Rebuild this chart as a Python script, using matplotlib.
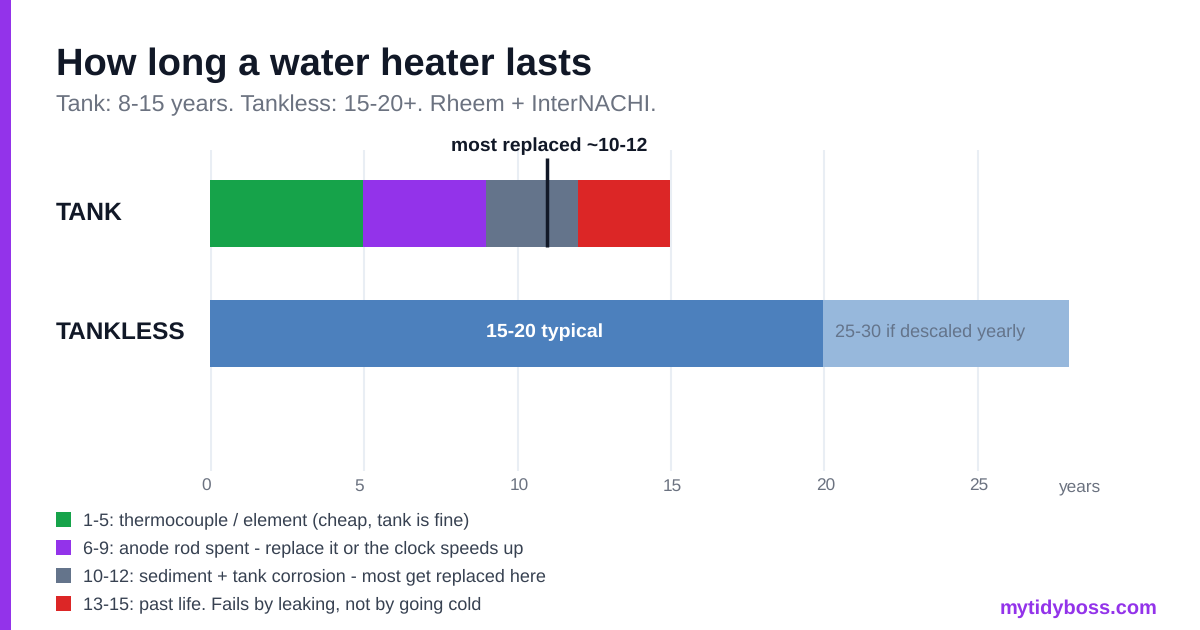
import matplotlib
matplotlib.use('Agg')
import matplotlib.pyplot as plt
from matplotlib.patches import Rectangle

plt.rcParams['font.family'] = ['Liberation Sans', 'DejaVu Sans']
plt.rcParams['text.hinting'] = 'no_hinting'

# tank segments: start, end, colour
tank_starts = [0, 5, 9, 12]
tank_ends = [5, 9, 12, 15]
tank_colors = ['#16a34a', '#9333ea', '#64748b', '#dc2626']

tankless_starts = [0, 20]
tankless_ends = [20, 28]
tankless_colors = ['#4c80bd', '#97b8dc']
tankless_labels = ['15-20 typical', '25-30 if descaled yearly']

marker_year = 11
ticks = [0, 5, 10, 15, 20, 25]

legend_labels = [
    '1-5: thermocouple / element (cheap, tank is fine)',
    '6-9: anode rod spent - replace it or the clock speeds up',
    '10-12: sediment + tank corrosion - most get replaced here',
    '13-15: past life. Fails by leaking, not by going cold',
]

W, H = 1200, 630
fig = plt.figure(figsize=(W / 100, H / 100), dpi=100, facecolor='white')

# plot area in pixels: x=0 at 210
x0 = 210
px_per_year = 30.67
top, bottom = 150, 471
ax = fig.add_axes([x0 / W, 1 - bottom / H, px_per_year * 30 / W, (bottom - top) / H])
ax.set_xlim(0, 30)
ax.set_ylim(bottom, top)  # y in pixels from the top
ax.axis('off')

for t in ticks:
    ax.axvline(t + 0.03, color='#e9eef4', lw=1.5, zorder=1)
    # two digit labels sit a little further right in the reference
    nudge = -0.29 if t < 10 else -0.24
    ax.text(t + nudge, 486.5, str(t), ha='left', va='center', fontsize=12.4, color='#6b7280', clip_on=False)
ax.text(28.38, 487, 'years', ha='center', va='center', fontsize=12.4, color='#6b7280', clip_on=False)

ax.barh(213.5, [e - s for s, e in zip(tank_starts, tank_ends)], left=tank_starts,
        height=67, color=tank_colors, zorder=2)
ax.barh(333.5, [e - s for s, e in zip(tankless_starts, tankless_ends)], left=tankless_starts,
        height=67, color=tankless_colors, zorder=2)

ax.text(10.9, 332, tankless_labels[0], ha='center', va='center', fontsize=14, fontweight='bold', color='white', zorder=3)
ax.text(20.38, 332, tankless_labels[1], ha='left', va='center', fontsize=12.95, color='#64748b', zorder=3)

ax.plot([marker_year, marker_year], [158, 247], color='#111827', lw=2.5, solid_capstyle='butt', zorder=4)
ax.text(11.06, 146, 'most replaced ~10-12', ha='center', va='center', fontsize=13.9, fontweight='bold',
        color='#111827', clip_on=False, zorder=4)

# text and legend placed in figure pixels
def fig_text(x, y, s, **kw):
    fig.text(x / W, 1 - y / H, s, va='center', **kw)

fig.add_artist(Rectangle((0, 0), 11 / W, 1, transform=fig.transFigure, color='#9333ea', lw=0))
fig_text(56, 65, 'How long a water heater lasts', fontsize=27.45, fontweight='bold', color='#111827')
fig_text(56, 105, 'Tank: 8-15 years. Tankless: 15-20+. Rheem + InterNACHI.', fontsize=16.75, color='#6b7280')
fig_text(56, 214, 'TANK', fontsize=17.8, fontweight='bold', color='#111827')
fig_text(56, 334, 'TANKLESS', fontsize=17.6, fontweight='bold', color='#111827')

for i, (lab, c) in enumerate(zip(legend_labels, tank_colors)):
    y = 519.5 + i * 28
    fig.add_artist(Rectangle((56 / W, 1 - (y + 7.5) / H), 15 / W, 15 / H, transform=fig.transFigure, color=c, lw=0))
    fig_text(83, y + 1.5, lab, fontsize=12.95, color='#374151')

fig_text(1158, 608.5, 'mytidyboss.com', ha='right', fontsize=14.4, fontweight='bold', color='#9333ea')

fig.savefig('out.png', dpi=100)
